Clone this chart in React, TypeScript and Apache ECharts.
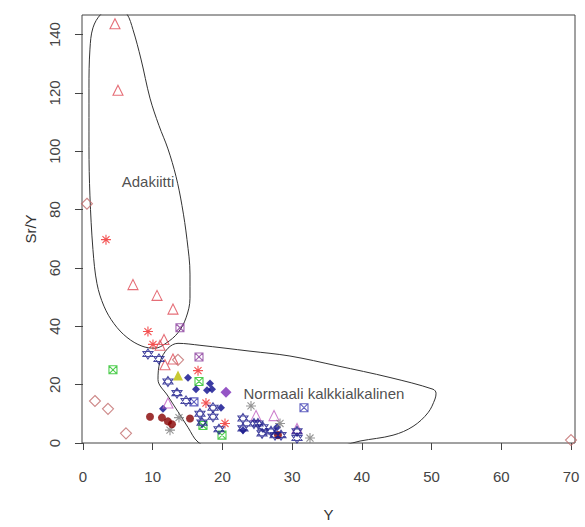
import React, { useEffect, useRef } from "react";
import * as echarts from "echarts";

// Field outlines (Y, Sr/Y)
const adakiittiCurve: number[][] = [
  [4.73, 150.4], [6.31, 147.0], [7.17, 141.7], [8.32, 131.6], [9.61, 118.2], [10.9, 108.8],
  [12.19, 100.8], [13.34, 91.4], [14.2, 81.4], [14.92, 69.7], [15.35, 57.9], [15.35, 49.6],
  [14.78, 42.9], [13.63, 37.8], [11.91, 34.2], [10.33, 32.5], [8.46, 33.2], [6.31, 36.2],
  [4.45, 40.9], [3.01, 46.9], [2.01, 54.6], [1.43, 66.3], [1.0, 84.7], [0.86, 101.5],
  [0.86, 121.6], [1.0, 135.0], [1.43, 142.3], [2.58, 147.0], [4.73, 150.4],
];
const normaaliCurve: number[][] = [
  [25.39, -2.0], [35.43, -1.7], [39.74, 0.67], [44.47, 2.68], [47.34, 5.69], [49.49, 10.38],
  [50.49, 15.07], [50.64, 17.08], [50.21, 18.42], [44.04, 22.44], [36.44, 26.46], [29.69, 29.81],
  [23.96, 31.48], [16.78, 33.49], [13.63, 34.16], [12.19, 32.48], [11.05, 27.8], [10.76, 21.77],
  [12.19, 16.08], [13.63, 10.72], [15.06, 5.36], [16.5, 0.33], [18.94, -2.0], [25.39, -2.0],
];

// Samples (Y, Sr/Y)
const redTriangles: number[][] = [
  [4.59, 143.7], [5.02, 120.9], [7.17, 54.3], [10.62, 50.6], [12.91, 45.9],
  [11.62, 35.5], [11.05, 33.5], [11.76, 26.8], [12.91, 28.8],
];
const redAsterisks: number[][] = [
  [3.3, 69.7], [9.32, 38.2], [10.04, 33.8], [16.5, 24.8], [17.64, 13.7], [20.37, 6.7],
];
const rosyDiamonds: number[][] = [
  [0.57, 82.0], [1.72, 14.4], [3.59, 11.7], [6.17, 3.3], [70.0, 1.0], [13.63, 28.5],
];
const greenSquares: number[][] = [[4.3, 25.1], [16.64, 21.1], [17.21, 6.0], [19.94, 2.7]];
const yellowTriangles: number[][] = [[13.63, 23.1]];
const navyDiamonds: number[][] = [
  [15.06, 22.4], [16.21, 18.4], [18.22, 20.4], [18.51, 18.4], [17.79, 18.1],
  [11.48, 11.7], [19.8, 12.1], [22.95, 4.4], [27.83, 5.4],
];
const purpleDiamonds: number[][] = [[20.51, 17.4]];
const purpleSquares: number[][] = [[13.91, 39.5], [16.64, 29.5]];
const orchidTriangles: number[][] = [[12.19, 13.7], [24.82, 9.4], [27.4, 9.4], [30.7, 5.0]];
const blueSquares: number[][] = [[31.7, 12.1], [15.92, 14.1]];
const grayAsterisks: number[][] = [[24.1, 12.7], [13.77, 8.7], [12.48, 4.4], [32.56, 1.7], [28.26, 6.7]];
const darkRedCircles: number[][] = [
  [9.61, 9.0], [11.33, 8.7], [12.19, 7.4], [12.77, 6.4], [15.35, 8.4], [27.97, 2.7],
];
const navyStars: number[][] = [
  [9.32, 30.5], [10.9, 28.8], [12.19, 21.1], [13.48, 17.1], [14.78, 14.4], [16.78, 10.0],
  [18.65, 12.1], [18.65, 9.0], [19.51, 4.7], [17.07, 7.0], [22.95, 8.4], [22.95, 5.0],
  [24.53, 6.7], [25.1, 6.7], [25.82, 5.4], [25.68, 3.3], [26.97, 4.0], [27.54, 2.7],
  [28.4, 2.7], [30.7, 1.7], [30.7, 4.0],
];

const fieldLabels = [
  { name: "Adakiitti", value: [9.32, 89.8], position: "inside" },
  { name: "Normaali kalkkialkalinen", value: [22.95, 17.1], position: "right" },
];

const xTicks = [0, 10, 20, 30, 40, 50, 60, 70];
const yTicks = [0, 20, 40, 60, 80, 100, 120, 140];

const ASTERISK = "path://M0,-10L0,10M-10,0L10,0M-7.07,-7.07L7.07,7.07M-7.07,7.07L7.07,-7.07";
const STAR = "path://M0,-10L8.66,5L-8.66,5ZM0,10L8.66,-5L-8.66,-5Z";
const SQX = "path://M-10,-10L10,-10L10,10L-10,10ZM-10,-10L10,10M10,-10L-10,10";

const FONT = "'Liberation Sans', Arial, sans-serif";
const CLEAR = "rgba(0,0,0,0)";

function open(name: string, data: number[][], symbol: string, size: number, color: string, width = 1.1) {
  return {
    type: "scatter", name, data, symbol, symbolSize: size, silent: true, z: 3,
    itemStyle: { color: CLEAR, borderColor: color, borderWidth: width },
  };
}
function filled(name: string, data: number[][], symbol: string, size: number, color: string) {
  return {
    type: "scatter", name, data, symbol, symbolSize: size, silent: true, z: 3,
    itemStyle: { color, borderWidth: 0 },
  };
}

export default function App() {
  const ref = useRef<HTMLDivElement>(null);
  useEffect(() => {
    if (!ref.current) return;
    const chart = echarts.init(ref.current, undefined, { renderer: "svg" });
    const curve = (name: string, data: number[][]) => ({
      type: "line", name, data, smooth: 0.35, showSymbol: false, symbol: "none", silent: true, clip: true, z: 2,
      lineStyle: { color: "#333", width: 1 },
    });
    chart.setOption({
      animation: false,
      grid: { left: 82, top: 15, right: 10, bottom: 74, show: true, borderColor: "#444", borderWidth: 1, backgroundColor: "transparent" },
      xAxis: {
        type: "value", min: -0.14, max: 70.57,
        name: "Y", nameLocation: "middle", nameGap: 64,
        nameTextStyle: { fontFamily: FONT, fontSize: 15, color: "#333" },
        axisLine: { show: false },
        axisTick: { show: true, length: 7, customValues: xTicks, lineStyle: { color: "#444" } },
        axisLabel: { customValues: xTicks, margin: 26, fontFamily: FONT, fontSize: 15, color: "#444" },
        splitLine: { show: false },
      },
      yAxis: {
        type: "value", min: 0, max: 146.7,
        name: "Sr/Y", nameLocation: "middle", nameGap: 44, nameRotate: 90,
        nameTextStyle: { fontFamily: FONT, fontSize: 15, color: "#333" },
        axisLine: { show: false },
        axisTick: { show: true, length: 8, customValues: yTicks, lineStyle: { color: "#444" } },
        axisLabel: { customValues: yTicks, rotate: 90, margin: 20, fontFamily: FONT, fontSize: 15, color: "#444" },
        splitLine: { show: false },
      },
      series: [
        curve("Adakiitti", adakiittiCurve),
        curve("Normaali", normaaliCurve),
        open("redTri", redTriangles, "triangle", 10, "#de4a55"),
        open("redAst", redAsterisks, ASTERISK, 10, "#f02828"),
        open("rosyDia", rosyDiamonds, "diamond", 11, "#c06a6a"),
        open("greenSq", greenSquares, SQX, 8, "#22c022"),
        filled("yellowTri", yellowTriangles, "triangle", 10, "#bcbc00"),
        filled("navyDia", navyDiamonds, "diamond", 8, "#0a0a8c"),
        filled("purpleDia", purpleDiamonds, "diamond", 11, "#7a2ab8"),
        open("purpleSq", purpleSquares, SQX, 8, "#8a3c9c"),
        open("orchidTri", orchidTriangles, "triangle", 10, "#c060c0"),
        open("blueSq", blueSquares, SQX, 8, "#3a3ab0"),
        open("grayAst", grayAsterisks, ASTERISK, 10, "#7a7a7a"),
        filled("darkRedCirc", darkRedCircles, "circle", 8, "#860000"),
        open("navyStar", navyStars, STAR, 10, "#1a1a8a"),
        {
          type: "scatter", name: "labels", silent: true, z: 4,
          symbolSize: 1, itemStyle: { color: CLEAR },
          data: fieldLabels.map((d) => ({
            name: d.name, value: d.value,
            label: { show: true, position: d.position, distance: 0, formatter: "{b}", fontFamily: FONT, fontSize: 15, color: "#222" },
          })),
        },
      ],
    });
    return () => chart.dispose();
  }, []);
  return <div ref={ref} style={{ width: 585, height: 527, position: "absolute", left: 0, top: 0 }} />;
}
